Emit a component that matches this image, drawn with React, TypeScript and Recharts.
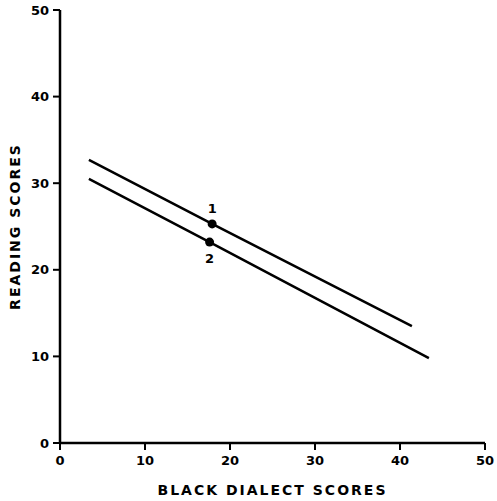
import { ComposedChart, Line, XAxis, YAxis } from 'recharts';

const xTicks = [0, 10, 20, 30, 40, 50];
const yTicks = [0, 10, 20, 30, 40, 50];

// regression line 1 (upper) and 2 (lower): start, marked point, end
const line1 = [
  { x: 3.4, y: 32.7 },
  { x: 17.9, y: 25.3 },
  { x: 41.4, y: 13.5 },
];
const line2 = [
  { x: 3.4, y: 30.5 },
  { x: 17.6, y: 23.2 },
  { x: 43.4, y: 9.8 },
];
const lineNames = ['1', '2'];

const font = '"DejaVu Sans", sans-serif';

function makeDot(label: string, above: boolean) {
  return (props: any) => {
    const { cx, cy, index } = props;
    if (index !== 1) return <g key={`d${label}${index}`} />;
    return (
      <g key={`d${label}${index}`}>
        <circle cx={cx} cy={cy} r={4.5} fill="#000" />
        <text
          x={cx}
          y={above ? cy - 11 : cy + 21}
          textAnchor="middle"
          fontFamily={font}
          fontWeight="bold"
          fontSize={13}
          fill="#000"
        >
          {label}
        </text>
      </g>
    );
  };
}

const tickStyle = { fontSize: 13, fontWeight: 'bold', fill: '#000', fontFamily: font };
const labelStyle = { fontSize: 14, fontWeight: 'bold', fill: '#000', fontFamily: font, letterSpacing: 2 };

export default function App() {
  return (
    <div style={{ position: 'absolute', left: 0, top: 0, background: '#fff' }}>
      <ComposedChart width={497} height={501} margin={{ top: 10, right: 12, left: 30, bottom: 28 }}>
        <XAxis
          type="number"
          dataKey="x"
          domain={[0, 50]}
          ticks={xTicks}
          allowDataOverflow
          axisLine={{ stroke: '#000', strokeWidth: 2.5 }}
          tickLine={{ stroke: '#000', strokeWidth: 2 }}
          tickSize={7}
          tickMargin={6}
          tick={tickStyle}
          height={30}
          label={{
            value: 'BLACK DIALECT SCORES',
            position: 'insideBottom',
            offset: -22,
            style: labelStyle,
          }}
        />
        <YAxis
          type="number"
          dataKey="y"
          domain={[0, 50]}
          ticks={yTicks}
          allowDataOverflow
          axisLine={{ stroke: '#000', strokeWidth: 2.5 }}
          tickLine={{ stroke: '#000', strokeWidth: 2 }}
          tickSize={7}
          tickMargin={4}
          tick={tickStyle}
          width={30}
          label={{
            value: 'READING SCORES',
            angle: -90,
            position: 'insideLeft',
            offset: -15,
            style: { ...labelStyle, textAnchor: 'middle' },
          }}
        />
        <Line
          data={line1}
          dataKey="y"
          type="linear"
          stroke="#000"
          strokeWidth={2.5}
          dot={makeDot(lineNames[0], true)}
          activeDot={false}
          isAnimationActive={false}
        />
        <Line
          data={line2}
          dataKey="y"
          type="linear"
          stroke="#000"
          strokeWidth={2.5}
          dot={makeDot(lineNames[1], false)}
          activeDot={false}
          isAnimationActive={false}
        />
      </ComposedChart>
    </div>
  );
}
